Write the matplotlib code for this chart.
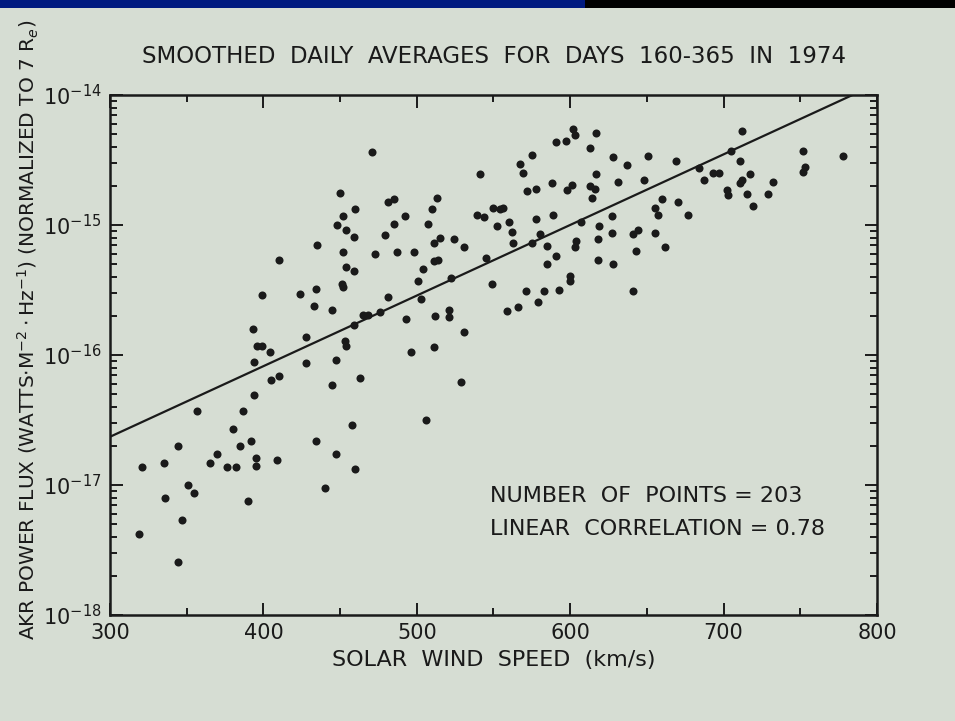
import numpy as np
import matplotlib
matplotlib.use('Agg')
import matplotlib.pyplot as plt
from matplotlib.patches import Rectangle
from matplotlib.ticker import MultipleLocator, LogLocator, NullFormatter

# solar wind speed (km/s) and log10 of AKR power flux
speed = [
    471, 450, 481, 485, 513, 460, 452, 510, 492, 485, 507, 448, 454, 459, 479,
    511, 515, 524, 435, 452, 473, 487, 498, 410, 454, 459, 511, 514, 504, 501,
    451, 452, 522, 399, 424, 434, 433, 445, 481, 503, 521, 521, 465, 468, 476,
    459, 493, 512, 393, 396, 399, 404, 428, 453, 454, 496, 511, 394, 428, 447,
    602, 603, 617, 591, 597, 613, 712, 575, 567, 569, 628, 637, 651, 669, 705,
    752, 778, 711, 753, 752, 541, 617, 572, 578, 588, 598, 601, 631, 648, 613,
    616, 614, 684, 687, 693, 697, 702, 703, 711, 712, 717, 715, 732, 729, 719,
    660, 670, 655, 657, 677, 539, 544, 550, 554, 556, 552, 560, 562, 578, 589,
    531, 563, 575, 580, 585, 607, 619, 627, 604, 603, 618, 627, 641, 644, 655,
    643, 662, 545, 591, 585, 618, 628, 549, 600, 600, 571, 583, 593, 641, 559,
    566, 579, 531,
    405, 410, 445, 463, 529, 394, 357, 387, 380, 458, 506, 344, 370, 365, 385,
    392, 395, 395, 376, 382, 409, 434, 447, 460, 321, 335, 351, 355, 336, 440,
    390, 347, 319, 344,
]
log_flux = [
    -14.44, -14.75, -14.82, -14.80, -14.79, -14.88, -14.93, -14.88, -14.93, -14.99,
    -14.99, -15.00, -15.04, -15.09, -15.08, -15.14, -15.10, -15.11, -15.15, -15.21,
    -15.22, -15.21, -15.21, -15.27, -15.32, -15.35, -15.28, -15.27, -15.34, -15.43,
    -15.45, -15.48, -15.41, -15.54, -15.53, -15.49, -15.62, -15.65, -15.55, -15.57,
    -15.65, -15.71, -15.69, -15.69, -15.67, -15.77, -15.72, -15.70, -15.80, -15.93,
    -15.93, -15.98, -15.86, -15.89, -15.93, -15.98, -15.94, -16.05, -16.06, -16.04,
    -14.26, -14.31, -14.29, -14.36, -14.35, -14.41, -14.28, -14.46, -14.53, -14.60,
    -14.48, -14.54, -14.47, -14.51, -14.43, -14.43, -14.47, -14.51, -14.55, -14.59,
    -14.61, -14.61, -14.74, -14.72, -14.68, -14.73, -14.69, -14.67, -14.65, -14.70,
    -14.72, -14.79, -14.56, -14.65, -14.60, -14.60, -14.73, -14.77, -14.68, -14.65,
    -14.61, -14.76, -14.67, -14.76, -14.85, -14.80, -14.82, -14.87, -14.92, -14.92,
    -14.92, -14.94, -14.87, -14.88, -14.87, -15.01, -14.98, -15.05, -14.95, -14.92,
    -15.17, -15.14, -15.14, -15.07, -15.16, -14.98, -15.01, -14.93, -15.12, -15.17,
    -15.11, -15.06, -15.07, -15.04, -15.06, -15.20, -15.17, -15.25, -15.24, -15.30,
    -15.27, -15.30, -15.45, -15.39, -15.43, -15.51, -15.51, -15.50, -15.51, -15.66,
    -15.63, -15.59, -15.82,
    -16.19, -16.16, -16.23, -16.18, -16.21, -16.31, -16.43, -16.43, -16.57, -16.54,
    -16.50, -16.70, -16.76, -16.83, -16.70, -16.66, -16.79, -16.85, -16.86, -16.86,
    -16.81, -16.66, -16.76, -16.88, -16.86, -16.83, -17.00, -17.06, -17.10, -17.02,
    -17.12, -17.27, -17.38, -17.59,
]

# regression line end points
fit_speed = [300, 784]
fit_flux = [2.35e-17, 1e-14]

x_ticks = [300, 400, 500, 600, 700, 800]
y_ticks = [1e-18, 1e-17, 1e-16, 1e-15, 1e-14]

paper = '#d6ddd3'
ink = '#1a1a1a'

plt.rcParams['font.family'] = ['DejaVu Sans']

fig = plt.figure(figsize=(9.55, 7.21), dpi=100, facecolor=paper)
ax = fig.add_axes([0.1152, 0.147, 0.8031, 0.7212])
ax.set_facecolor(paper)

flux = 10.0 ** np.array(log_flux)
ax.plot(speed, flux, 'o', color=ink, markersize=5.8, markeredgewidth=0)
ax.plot(fit_speed, fit_flux, '-', color=ink, linewidth=1.6)

ax.set_yscale('log')
ax.set_xlim(300, 800)
ax.set_ylim(1e-18, 1e-14)
ax.set_xticks(x_ticks)
ax.set_yticks(y_ticks)
ax.xaxis.set_minor_locator(MultipleLocator(50))
ax.yaxis.set_minor_locator(LogLocator(base=10, subs=np.arange(2, 10)))
ax.yaxis.set_minor_formatter(NullFormatter())

for s in ax.spines.values():
    s.set_linewidth(1.8)
    s.set_color(ink)
ax.tick_params(which='both', direction='in', top=True, right=True,
               color=ink, labelcolor=ink, width=1.4)
ax.tick_params(which='major', length=9, labelsize=15, pad=6)
ax.tick_params(which='minor', length=5)

ax.set_xlabel('SOLAR  WIND  SPEED  (km/s)', fontsize=16, color=ink, labelpad=5)
ax.set_ylabel(r'AKR POWER FLUX (WATTS$\cdot$M$^{-2}\cdot$Hz$^{-1}$) (NORMALIZED TO 7 R$_e$)',
              fontsize=14.5, color=ink)
ax.yaxis.set_label_coords(-0.09, 0.548)
fig.text(0.517, 0.921, 'SMOOTHED  DAILY  AVERAGES  FOR  DAYS  160-365  IN  1974',
         ha='center', va='center', fontsize=16.5, color=ink)

ax.text(548, 10 ** -17.085, 'NUMBER  OF  POINTS = 203', fontsize=16, color=ink,
        ha='left', va='center')
ax.text(548, 10 ** -17.34, 'LINEAR  CORRELATION = 0.78', fontsize=16, color=ink,
        ha='left', va='center')

# blue/black banner across the top of the slide
fig.patches.append(Rectangle((0, 0.989), 0.613, 0.011, transform=fig.transFigure,
                             facecolor='#001a80', edgecolor='none'))
fig.patches.append(Rectangle((0.613, 0.989), 0.387, 0.011, transform=fig.transFigure,
                             facecolor='black', edgecolor='none'))

fig.savefig('out.png', dpi=100, facecolor=paper)
